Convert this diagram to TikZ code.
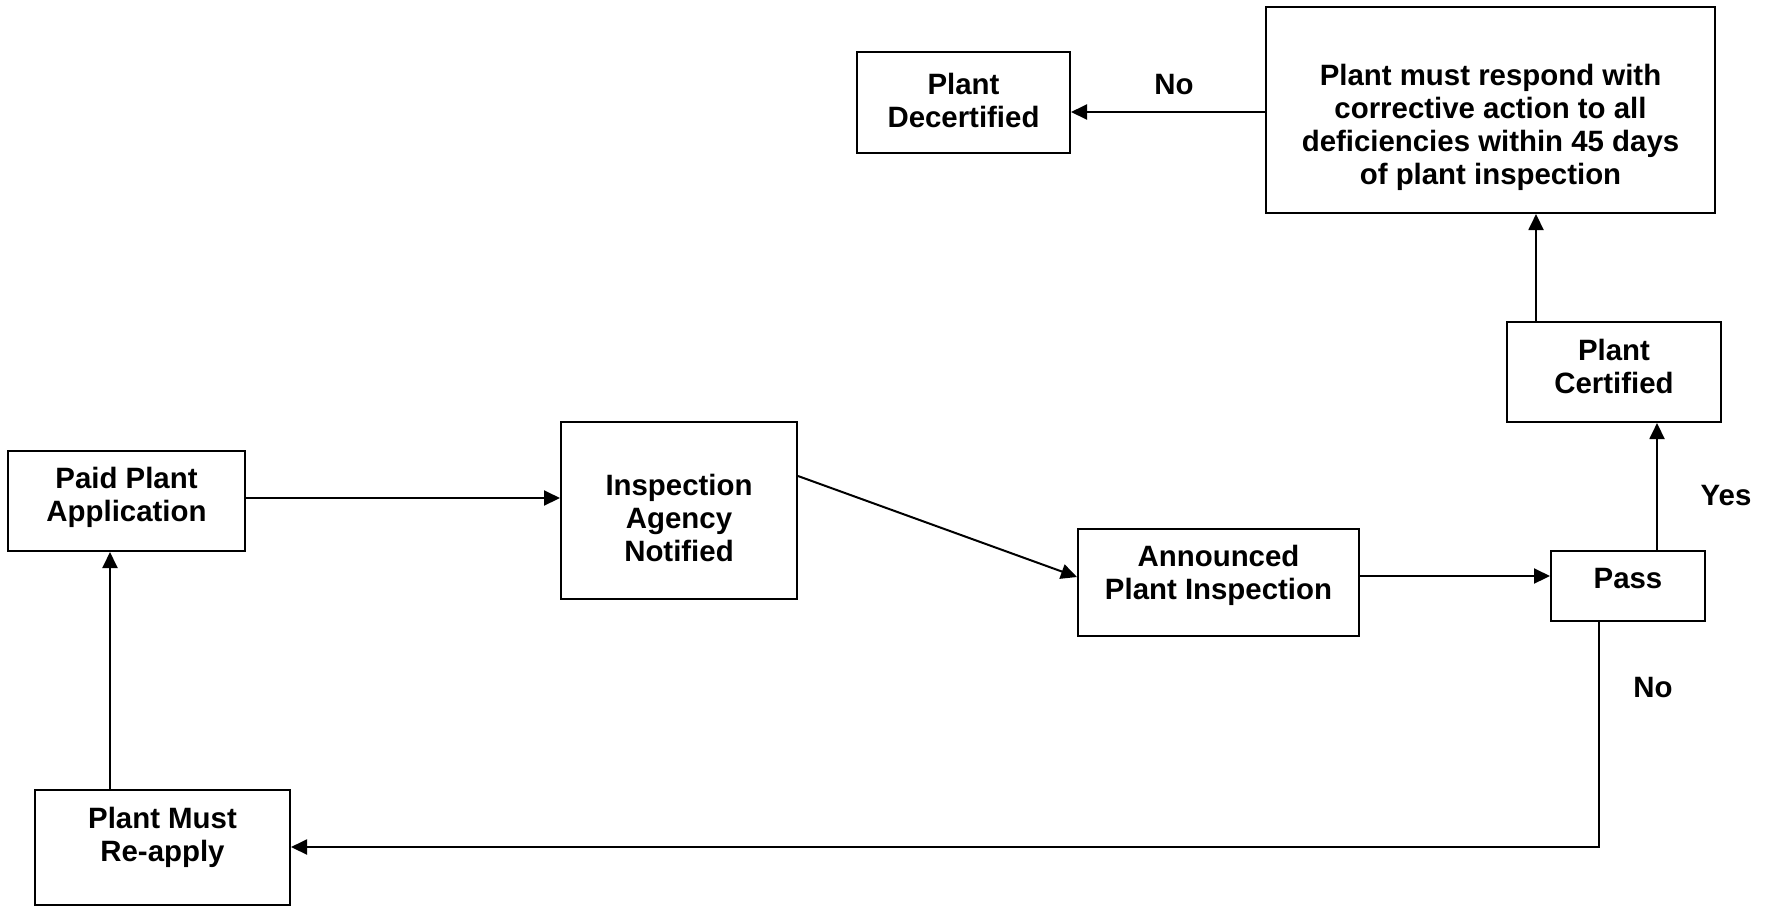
\documentclass[tikz,border=0pt]{standalone}
\usepackage{fontspec}
\setmainfont{Liberation Sans}
\usetikzlibrary{arrows.meta}
\begin{document}
\begin{tikzpicture}[x=0.5pt,y=-0.5pt,
  box/.style={draw,line width=1pt,rectangle,inner sep=0pt},
  txt/.style={align=center,font=\fontsize{14.7}{16.5}\selectfont\bfseries,inner sep=0pt},
  lbl/.style={font=\fontsize{14.7}{16.5}\selectfont\bfseries,inner sep=0pt},
  arr/.style={line width=1pt,-{Triangle[length=8pt,width=7.5pt]}},
  thinln/.style={line width=0.7pt}]
\useasboundingbox (0,0) rectangle (1765,907);
% boxes
\node[box,minimum width=237*0.5pt,minimum height=100*0.5pt] (paid) at (126.5,501) {};
\node[box,minimum width=236*0.5pt,minimum height=177*0.5pt] (insp) at (679,510.5) {};
\node[box,minimum width=281*0.5pt,minimum height=107*0.5pt] (ann) at (1218.5,582.5) {};
\node[box,minimum width=154*0.5pt,minimum height=70*0.5pt] (pass) at (1628,586) {};
\node[box,minimum width=214*0.5pt,minimum height=100*0.5pt] (cert) at (1614,372) {};
\node[box,minimum width=449*0.5pt,minimum height=206*0.5pt] (big) at (1490.5,110) {};
\node[box,minimum width=213*0.5pt,minimum height=101*0.5pt] (decert) at (963.5,102.5) {};
\node[box,minimum width=255*0.5pt,minimum height=115*0.5pt] (reapply) at (162.5,847.5) {};
% texts
\node[txt] (tpaid) at (126.5,497) {Paid Plant\\Application};
\node[txt] (tinsp) at (679,518) {Inspection\\Agency\\Notified};
\node[txt] (tann) at (1218.5,575) {Announced\\Plant Inspection};
\node[txt] (tpass) at (1628,579) {Pass};
\node[txt] (tcert) at (1614,366) {Plant\\Certified};
\node[txt] (tbig) at (1490.5,127) {Plant must respond with\\corrective action to all\\deficiencies within 45 days\\of plant inspection};
\node[txt] (tdecert) at (963.5,100) {Plant\\Decertified};
\node[txt] (treapply) at (162.5,837) {Plant Must\\Re-apply};
% labels
\node[lbl] (lno1) at (1174,85) {No};
\node[lbl] (lyes) at (1726,496) {Yes};
\node[lbl] (lno2) at (1653,688) {No};
% helper coordinates
\coordinate (y1) at (0,498);
\coordinate (y2) at (0,476);
\coordinate (y3) at (0,577);
\coordinate (y4) at (0,576);
\coordinate (x1) at (1657,0);
\coordinate (x2) at (1536,0);
\coordinate (y5) at (0,112);
\coordinate (x3) at (1599,0);
\coordinate (y6) at (0,847);
\coordinate (x4) at (110,0);
\coordinate (corner) at (1599,847);
\coordinate (mid) at (919,847);
% connectors
\draw[arr] (paid.east |- y1) -- (insp.west |- y1);
\draw[arr] (insp.east |- y2) -- (ann.west |- y3);
\draw[arr] (ann.east |- y4) -- (pass.west |- y4);
\draw[arr] (x1 |- pass.north) -- (x1 |- cert.south);
\draw[arr] (x2 |- cert.north) -- (x2 |- big.south);
\draw[arr] (big.west |- y5) -- (decert.east |- y5);
\draw[thinln] (x3 |- pass.south) -- (corner) -- (mid);
\draw[arr] (mid) -- (reapply.east |- y6);
\draw[arr] (x4 |- reapply.north) -- (x4 |- paid.south);
\end{tikzpicture}
\end{document}
